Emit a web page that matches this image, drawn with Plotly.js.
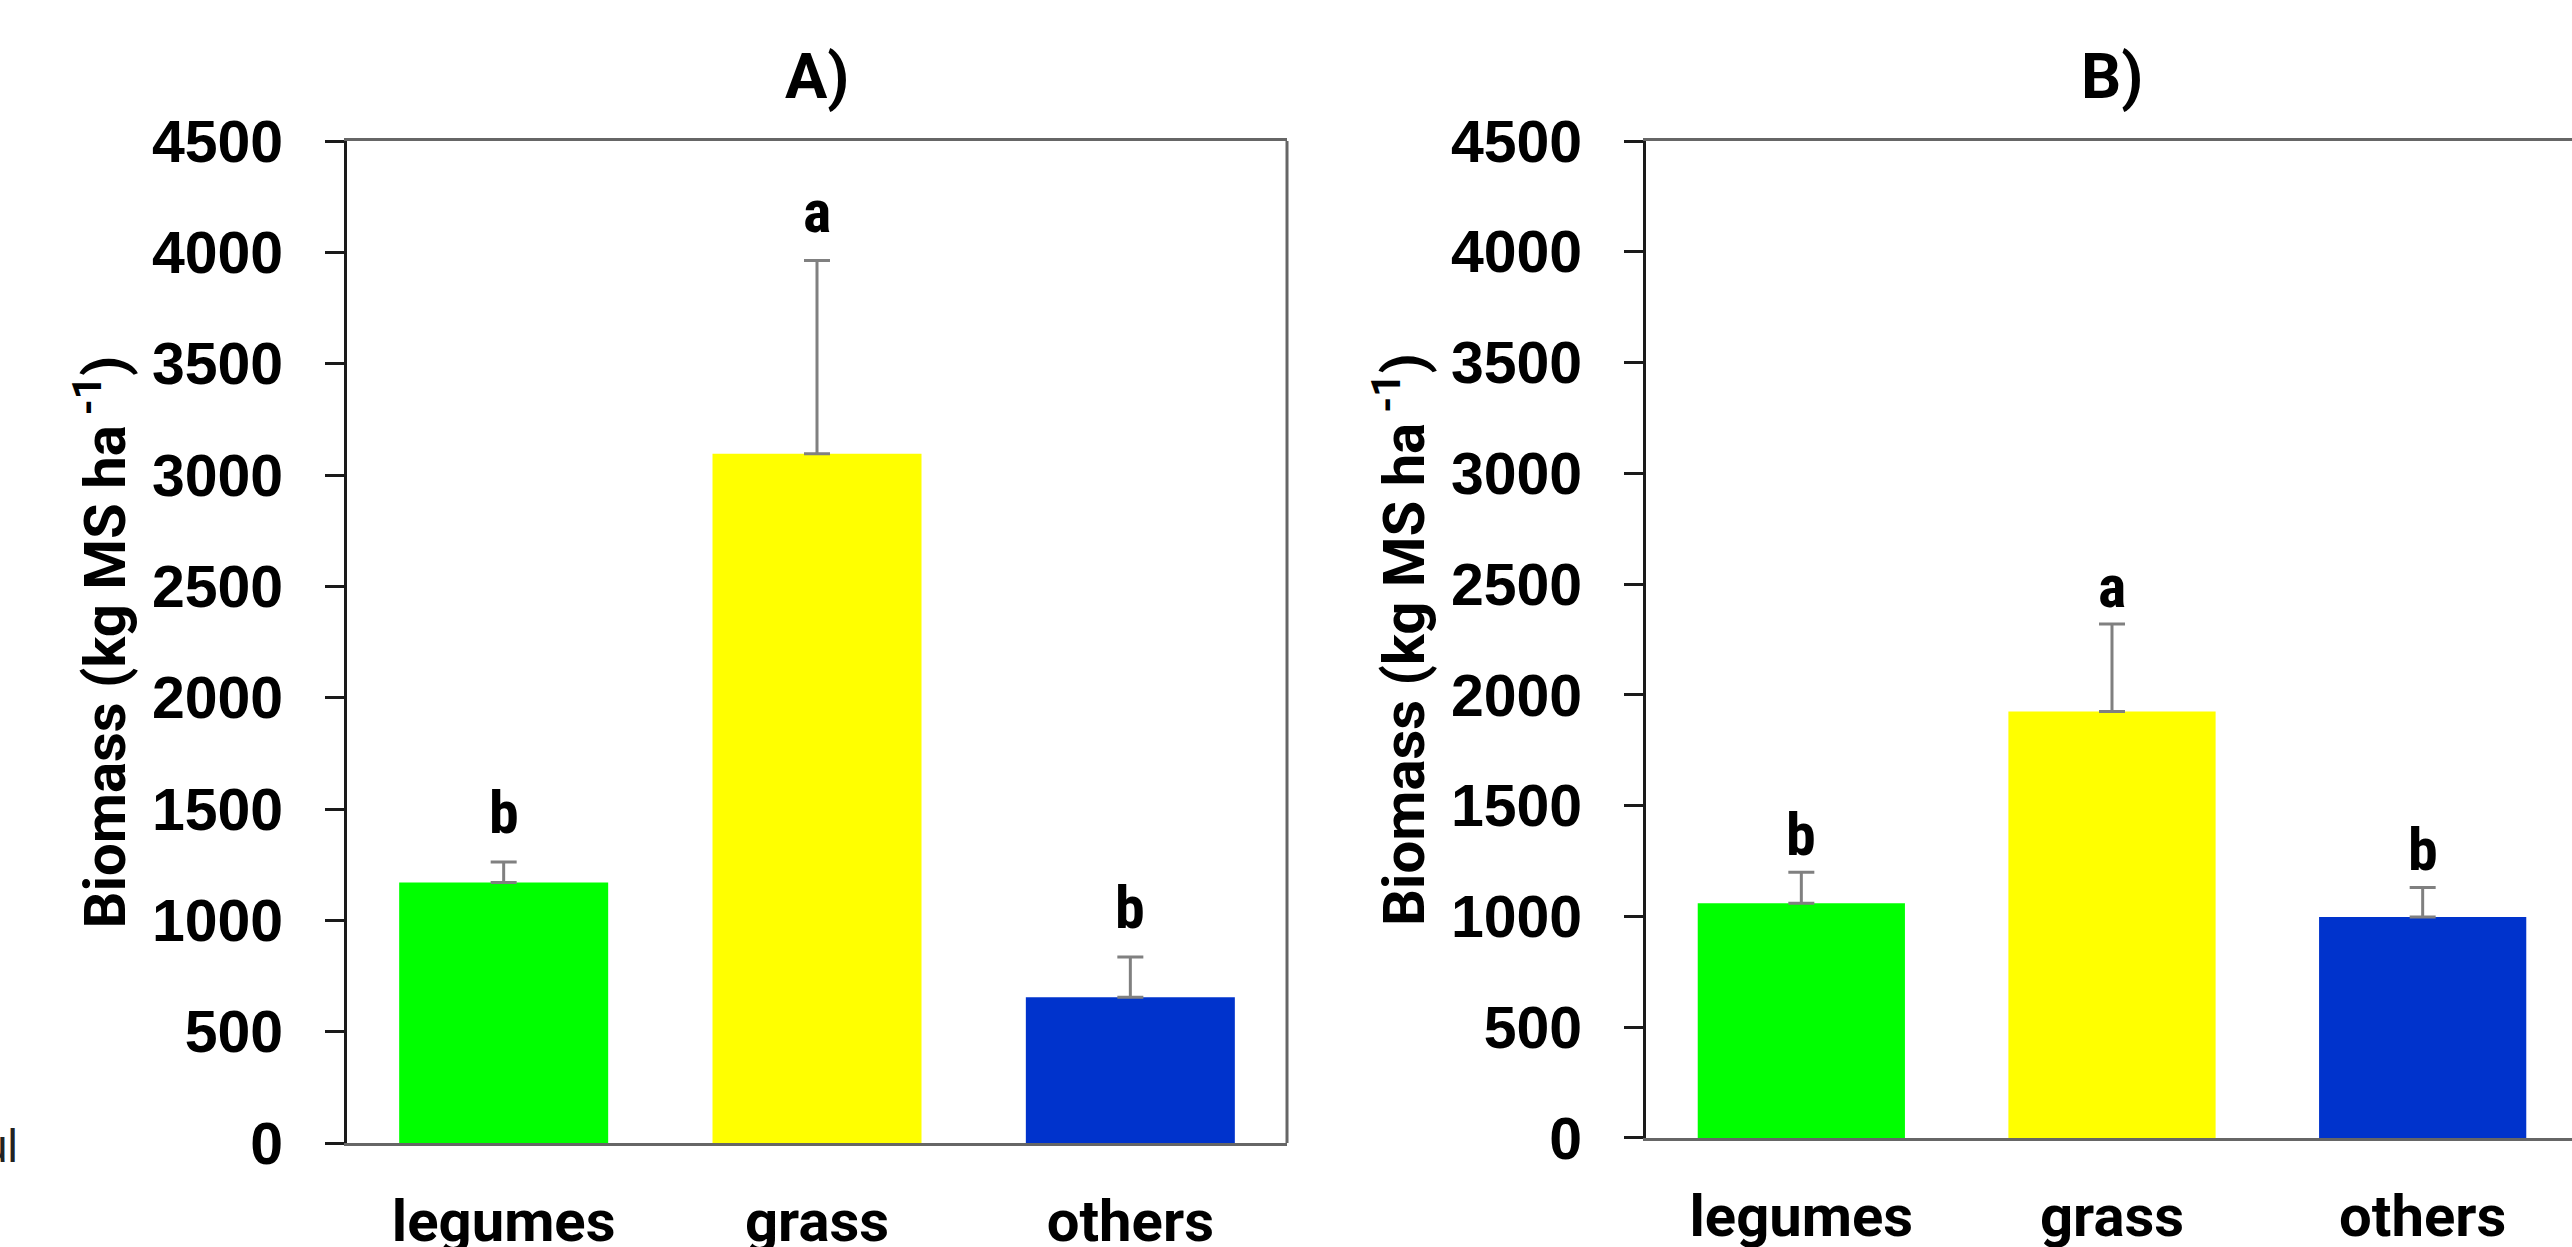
<!DOCTYPE html>
<html><head><meta charset="utf-8">
<script src="https://cdn.plot.ly/plotly-3.0.1.min.js"></script>
<style>
html,body{margin:0;padding:0;overflow:hidden;background:#fff;width:2572px;height:1247px}
#chart{width:2600px;height:1247px}
</style>
</head><body><div id="chart"></div>
<script>
// ---- data ----
const categories = ['legumes', 'grass', 'others'];
const barColors = ['#00FF00', '#FFFF00', '#0033CC'];
const biomassA = [1170, 3095, 655];
const errorA = [92, 868, 180];
const lettersA = ['b', 'a', 'b'];
const biomassB = [1060, 1925, 998];
const errorB = [140, 395, 133];
const lettersB = ['b', 'a', 'b'];
const yTickValues = [0, 500, 1000, 1500, 2000, 2500, 3000, 3500, 4000, 4500];
const yTickLabels = ['0', '500', '1000', '1500', '2000', '2500', '3000', '3500', '4000', '4500'];
const panelTitles = ['A)', 'B)'];
const yTitleText = 'Biomass (kg MS ha<sup> -1</sup>)';
const strayText = 'ul';

// ---- styling ----
const FIG_W = 2600, FIG_H = 1247;
const numFont = {family: 'Liberation Sans, Arial, sans-serif', size: 59, color: '#000', weight: 'bold'};
const catFont = {family: 'Roboto, Lato, sans-serif', size: 58, color: '#000', weight: 'bold'};
const letterFont = {family: 'Liberation Sans Narrow, Arial Narrow, Roboto Condensed, sans-serif', size: 60, color: '#000', weight: 'bold'};
const titleFont = {family: 'Roboto, sans-serif', size: 63, color: '#000', weight: 'bold'};
const yTitleFont = {family: 'Roboto, sans-serif', size: 58, color: '#000', weight: 'bold'};

function barTrace(vals, errs, xa, ya) {
  return {
    type: 'bar', x: categories, y: vals, xaxis: xa, yaxis: ya,
    marker: {color: barColors, line: {width: 0}},
    error_y: {type: 'data', symmetric: false, array: errs, arrayminus: errs.map(() => 0),
              color: '#808080', thickness: 3, width: 13},
    hoverinfo: 'skip', showlegend: false
  };
}

function xAxis(domain, anchor) {
  return {
    domain: domain, anchor: anchor, type: 'category',
    showline: true, linecolor: '#666666', linewidth: 3, mirror: true,
    ticks: '', showgrid: false, zeroline: false,
    tickfont: catFont, ticklabelstandoff: 25, fixedrange: true
  };
}
function yAxis(domain, anchor) {
  return {
    domain: domain, anchor: anchor, range: [0, 4500],
    tickvals: yTickValues, ticktext: yTickLabels,
    ticks: 'outside', ticklen: 19, tickwidth: 3, tickcolor: '#1a1a1a',
    showline: true, linecolor: '#1a1a1a', linewidth: 3,
    showgrid: false, zeroline: false, tickfont: numFont, ticklabelstandoff: 30,
    title: {text: yTitleText, font: yTitleFont, standoff: 8}, fixedrange: true
  };
}

const data = [barTrace(biomassA, errorA, 'x', 'y'), barTrace(biomassB, errorB, 'x2', 'y2')];

const annotations = [];
function addLetters(vals, errs, letters, xr, yr, shift) {
  letters.forEach((t, i) => annotations.push({
    xref: xr, yref: yr, x: categories[i], y: vals[i] + errs[i], text: t,
    showarrow: false, yanchor: 'bottom', yshift: shift, font: letterFont
  }));
}
addLetters(biomassA, errorA, lettersA, 'x', 'y', 12);
addLetters(biomassB, errorB, lettersB, 'x2', 'y2', 0);
annotations.push({xref: 'x domain', yref: 'paper', x: 0.5, y: 1.064, yanchor: 'middle',
  text: panelTitles[0], showarrow: false, font: titleFont});
annotations.push({xref: 'x2 domain', yref: 'paper', x: 0.5, y: 1.064, yanchor: 'middle',
  text: panelTitles[1], showarrow: false, font: titleFont});
annotations.push({xref: 'paper', yref: 'paper', x: -0.1465, y: -0.003, xanchor: 'right', yanchor: 'middle',
  text: strayText, showarrow: false,
  font: {family: 'Liberation Sans, Arial, sans-serif', size: 46, color: '#222'}});

const frameLine = {color: '#666666', width: 3};
const shapes = [
  {type: 'line', xref: 'x domain', yref: 'y domain', x0: 1, x1: 1, y0: 0, y1: 1, line: frameLine},
  {type: 'line', xref: 'x2 domain', yref: 'y2 domain', x0: 1, x1: 1, y0: 0, y1: 1, line: frameLine}
];

const layout = {
  width: FIG_W, height: FIG_H, autosize: false,
  margin: {l: 347, r: 22, t: 141, b: 104, pad: 0},
  paper_bgcolor: '#fff', plot_bgcolor: '#fff',
  bargap: 0.333, showlegend: false,
  xaxis: xAxis([0, 0.42134], 'y'),
  yaxis: yAxis([0, 1], 'x'),
  xaxis2: xAxis([0.58225, 1], 'y2'),
  yaxis2: yAxis([0.005, 1], 'x2'),
  annotations: annotations, shapes: shapes
};

Plotly.newPlot('chart', data, layout, {staticPlot: true, displayModeBar: false});
</script>
</body></html>
